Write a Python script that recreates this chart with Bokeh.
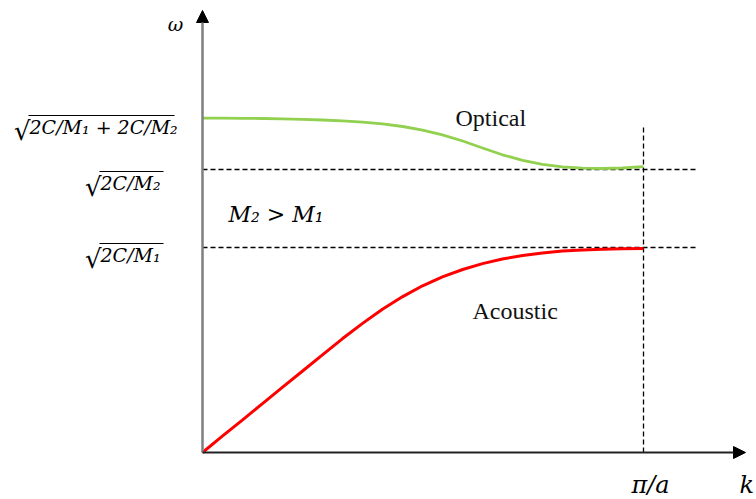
from bokeh.plotting import figure
from bokeh.models import Range1d, Arrow, NormalHead, ColumnDataSource
from bokeh.core.properties import value
from bokeh.embed import file_html
from bokeh.resources import INLINE

# ---------------- data (k in units of pi/a, omega in arbitrary units) ----------------
k_grid = [0.000, 0.045, 0.091, 0.136, 0.181, 0.227, 0.272, 0.317, 0.363, 0.408, 0.454, 0.499,
          0.544, 0.590, 0.635, 0.680, 0.726, 0.771, 0.816, 0.862, 0.907, 0.952, 1.000]
k_optical = k_grid
w_optical = [3.343, 3.343, 3.342, 3.340, 3.337, 3.332, 3.325, 3.316, 3.304, 3.286, 3.260, 3.224,
             3.177, 3.115, 3.045, 2.977, 2.922, 2.882, 2.857, 2.844, 2.840, 2.845, 2.858]

k_acoustic = k_grid
w_acoustic = [0.000, 0.163, 0.326, 0.489, 0.652, 0.815, 0.977, 1.137, 1.291, 1.433, 1.559, 1.667,
              1.757, 1.830, 1.889, 1.935, 1.970, 1.996, 2.014, 2.026, 2.033, 2.037, 2.039]

level_values = [3.343, 2.83, 2.05]
level_radicands = ["2C/M\u2081 + 2C/M\u2082", "2C/M\u2082", "2C/M\u2081"]
k_zone_edge = 1.0
k_tick_label = "\u03c0/a"
x_axis_label = "k"
y_axis_label = "\u03c9"
branch_labels = ["Optical", "Acoustic"]
mass_note = "M\u2082 > M\u2081"

# ---------------- layout (pixel geometry of the frame) ----------------
W, H = 756, 499
OX, OY = 202, 452          # pixel position of origin
PXK, PXW = 441.0, 100.0    # pixels per unit k and per unit omega


def kx(px):
    return (px - OX) / PXK


def wy(py):
    return (OY - py) / PXW


p = figure(width=W, height=H, output_backend="svg", toolbar_location=None,
           x_range=Range1d(kx(0), kx(W)), y_range=Range1d(wy(H), wy(0)),
           x_axis_type=None, y_axis_type=None, min_border=0,
           outline_line_color=None, background_fill_color="white",
           border_fill_color="white")
p.grid.visible = False

math_font = value("DejaVu Serif")
text_font = value("Liberation Serif")

# dashed guide lines
dash = "5 3"
for lv in level_values[1:]:
    p.line([0, kx(698)], [lv, lv], line_color="black", line_width=1.3, line_dash=dash)
p.line([k_zone_edge, k_zone_edge], [0, wy(125)], line_color="black", line_width=1.3, line_dash=dash)

# axes with arrow heads
p.add_layout(Arrow(end=NormalHead(size=12, fill_color="black", line_color="black", line_width=1),
                   x_start=0, y_start=0, x_end=0, y_end=wy(10),
                   line_color="#7f7f7f", line_width=2.5))
p.add_layout(Arrow(end=NormalHead(size=12, fill_color="black", line_color="black", line_width=1),
                   x_start=0, y_start=0, x_end=kx(745), y_end=0,
                   line_color="#222222", line_width=2))

# dispersion branches
p.line(k_optical, w_optical, line_color="#92D050", line_width=2.8, line_join="round")
p.line(k_acoustic, w_acoustic, line_color="#FF0000", line_width=3, line_join="round")

# level labels (square roots)
rad_left = [29, 100, 100]
rad_right = [174, 163, 163]
rad_base = [126, 182, 254]
sqrt_base = [130, 186, 258]
bar_y = [115, 171, 243]
src = ColumnDataSource(dict(
    x=[kx(l) for l in rad_left],
    y=[wy(b) for b in rad_base],
    t=level_radicands))
p.text(x="x", y="y", text="t", source=src, text_font=math_font, text_font_style="italic",
       text_font_size="19px", text_align="left", text_baseline="alphabetic", text_color="black")
src2 = ColumnDataSource(dict(
    x=[kx(l + 1) for l in rad_left],
    y=[wy(b) for b in sqrt_base],
    t=["\u221a"] * 3))
p.text(x="x", y="y", text="t", source=src2, text_font=math_font,
       text_font_size="26px", text_align="right", text_baseline="alphabetic", text_color="black")
p.segment(x0=[kx(l - 1) for l in rad_left], y0=[wy(b) for b in bar_y],
          x1=[kx(r) for r in rad_right], y1=[wy(b) for b in bar_y],
          line_color="black", line_width=1.2)

# axis symbols
p.text(x=[kx(175)], y=[wy(23)], text=[y_axis_label], text_font=math_font, text_font_style="italic",
       text_font_size="19px", text_align="center", text_baseline="alphabetic", text_color="black")
p.text(x=[k_zone_edge], y=[wy(484)], text=[k_tick_label], x_offset=7, text_font=math_font,
       text_font_style="italic", text_font_size="24px", text_align="center",
       text_baseline="alphabetic", text_color="black")
p.text(x=[kx(739)], y=[wy(484)], text=[x_axis_label], text_font=math_font, text_font_style="italic",
       text_font_size="24px", text_align="left", text_baseline="alphabetic", text_color="black")

# branch names and mass relation
p.text(x=[kx(455), kx(472)], y=[wy(117), wy(310)], text=branch_labels, text_font=text_font,
       text_font_size="24px", text_align="left", text_baseline="alphabetic", text_color="#111111")
p.text(x=[kx(228)], y=[wy(214)], text=[mass_note], text_font=math_font, text_font_style="italic",
       text_font_size="22px", text_align="left", text_baseline="alphabetic", text_color="black")

open("out.html", "w").write(file_html(p, INLINE))
